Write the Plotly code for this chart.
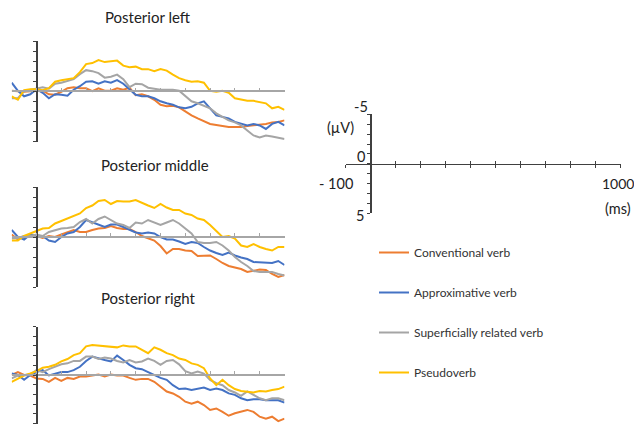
import plotly.graph_objects as go

# Time grid (ms)
T = list(range(-100, 1001, 25))

SERIES = ["Conventional verb", "Approximative verb", "Superficially related verb", "Pseudoverb"]
COLORS = ["#ED7D31", "#4472C4", "#A5A5A5", "#FFC000"]

# Posterior left (µV, negative plotted up)
PL_orange = [-0.05,0,0.05,0,0,-0.05,0.3,0.35,0.05,-0.3,-0.4,-0.3,-0.3,0,-0.3,-0.05,-0.05,-0.3,-0.15,-0.35,0.4,0.3,0.5,0.85,1.35,1.5,1.45,1.6,2.0,2.4,2.7,3.0,3.25,3.35,3.45,3.55,3.55,3.55,3.45,3.4,3.35,3.25,3.1,3.05,2.9]
PL_blue = [-0.85,-0.05,0.5,0.3,-0.2,0.15,0.7,0.3,0.35,0.45,-0.15,-0.5,-0.95,-1.0,-0.75,-1.0,-0.85,-1.1,-0.75,-0.15,0.35,0.5,0.5,0.7,1.0,1.2,1.35,1.6,1.7,1.55,1.2,1.0,1.7,2.4,2.55,2.7,3.05,3.25,3.4,3.25,3.4,3.75,3.25,3.05,3.4]
PL_gray = [0.7,0.7,0,-0.15,-0.25,-0.4,-0.25,-0.75,-0.85,-1.0,-1.2,-1.7,-2.1,-2.0,-1.8,-1.35,-1.45,-1.65,-1.2,-0.4,-0.75,-0.7,-0.35,-0.25,-0.15,-0.15,-0.15,-0.05,0.5,1.0,1.2,1.45,1.7,2.2,2.55,2.9,3.1,3.4,3.9,4.4,4.6,4.4,4.5,4.6,4.75]
PL_yellow = [0.5,0.85,-0.1,-0.2,-0.2,-0.1,-0.3,-0.95,-1.1,-1.2,-1.3,-1.9,-2.7,-2.8,-3.1,-2.9,-3.0,-3.05,-2.55,-2.4,-2.45,-2.2,-2.2,-2.0,-2.2,-2.05,-1.65,-1.3,-1.1,-0.95,-1.0,-0.85,-0.05,0.05,-0.05,0.15,0.7,0.85,0.95,0.95,1.1,1.2,1.7,1.55,1.85]

# Posterior middle
PM_orange = [-0.25,0.25,-0.1,0,-0.1,0.1,-0.1,0,-0.25,-0.45,-0.7,-0.5,-0.5,-0.7,-0.85,-0.9,-1.1,-0.9,-0.8,-0.8,-0.5,-0.1,0.15,0.35,0.9,1.65,1.2,1.2,1.35,1.4,1.9,1.85,1.85,2.2,2.6,2.9,3.05,3.2,3.5,3.4,3.25,3.3,3.7,4.0,3.8]
PM_blue = [-0.7,0,0.25,-0.25,-0.1,-0.1,0.35,0.5,0,-0.35,-0.5,-1.0,-1.7,-1.45,-1.2,-1.0,-1.25,-1.25,-1.0,-0.7,-0.45,-0.35,-0.45,-0.35,0,0.25,0.25,0.45,0.7,0.5,0.6,1.0,1.35,1.6,1.8,1.55,1.85,2.05,2.2,2.5,2.55,2.6,2.6,2.4,2.8]
PM_gray = [0.15,0.1,-0.1,-0.1,-0.25,-0.1,-0.5,-0.7,-0.85,-0.9,-1.0,-1.5,-1.8,-1.35,-1.8,-2.05,-1.7,-1.35,-1.2,-0.9,-1.45,-1.35,-1.7,-1.45,-1.2,-1.45,-1.7,-1.35,-0.85,-0.35,0.5,0.6,0.6,0.5,0.85,1.35,2.0,2.5,2.9,3.4,3.5,3.5,3.5,3.7,3.85]
PM_yellow = [0.35,0.35,-0.1,-0.35,-0.6,-0.85,-0.9,-1.35,-1.6,-1.85,-2.05,-2.35,-2.9,-3.15,-3.6,-3.7,-3.3,-3.6,-3.55,-3.55,-3.7,-3.4,-3.15,-2.9,-3.3,-2.95,-2.7,-2.7,-2.35,-2.2,-1.85,-1.7,-1.2,-0.6,0,-0.1,0.15,0.85,1.0,0.7,1.0,1.2,1.35,1.0,1.0]

# Posterior right
PR_orange = [0,-0.3,0,0.05,0.35,0.4,0.7,0.3,0.6,0.3,0.4,0.15,0.15,0.05,-0.05,0.15,-0.05,0.05,0.05,0.3,0.5,0.4,0.4,0.7,1.2,1.7,1.9,2.25,2.75,2.95,2.75,3.1,3.6,3.45,3.8,4.2,3.95,3.8,3.6,3.8,4.3,4.5,4.3,4.75,4.5]
PR_blue = [-0.15,0,0.5,0,-0.3,-0.5,0.05,-0.15,-0.3,-0.3,-0.5,-0.85,-1.45,-1.9,-1.7,-1.55,-1.4,-2.0,-1.55,-1.05,-0.7,-0.6,-0.3,0,0.3,0.5,1.05,1.45,1.4,1.55,1.4,1.3,1.55,1.4,1.55,1.9,2.05,2.4,2.6,2.5,2.5,2.6,2.6,2.6,2.85]
PR_gray = [0.35,0.05,0,-0.05,-0.5,-0.3,-0.6,-0.85,-1.1,-1.2,-1.45,-1.45,-1.9,-1.9,-1.65,-1.8,-1.7,-1.45,-1.3,-1.55,-1.3,-1.4,-1.7,-1.45,-1.05,-1.45,-1.55,-1.1,-0.4,-0.15,-0.35,-0.15,0.5,0.85,1.05,1.55,1.8,2.15,1.7,2.05,2.4,2.6,2.4,2.4,2.6]
PR_yellow = [0.7,0.35,0.05,-0.15,-0.4,-0.75,-0.85,-1.05,-1.4,-1.65,-2.05,-2.25,-2.95,-3.1,-3.05,-2.95,-2.95,-2.85,-3.05,-2.95,-2.95,-2.6,-2.25,-2.85,-2.6,-2.25,-2.05,-1.7,-1.55,-1.2,-1.05,-0.7,0.35,1.05,0.5,1.05,1.45,1.65,1.7,1.8,1.65,1.7,1.55,1.45,1.2]

PANELS = [
    ("Posterior left", [PL_orange, PL_blue, PL_gray, PL_yellow]),
    ("Posterior middle", [PM_orange, PM_blue, PM_gray, PM_yellow]),
    ("Posterior right", [PR_orange, PR_blue, PR_gray, PR_yellow]),
]

# The page body has an 8px margin; the figure is sized to fill the rest of the window.
OFF = 8
W, H = 642 - OFF, 426 - OFF
FONT = "Lato"

def px_x(p):
    return (p - OFF) / W

def px_y(p):
    return 1 - (p - OFF) / H

XD = [px_x(11.7), px_x(284.5)]
YDS = [[px_y(141.5), px_y(41)], [px_y(287), px_y(187)], [px_y(423.5), px_y(326.5)]]
TITLE_POS = [(148, 17), (155, 165), (148, 298)]

fig = go.Figure()
layout = dict(
    width=W, height=H, margin=dict(l=0, r=0, t=0, b=0),
    paper_bgcolor="white", plot_bgcolor="rgba(0,0,0,0)",
    showlegend=True,
    font=dict(family=FONT, color="#222222"),
    annotations=[],
)

for i, (title, data) in enumerate(PANELS):
    n = i + 1
    xa = "x" if n == 1 else f"x{n}"
    ya = "y" if n == 1 else f"y{n}"
    for k, (name, col, vals) in enumerate(zip(SERIES, COLORS, data)):
        fig.add_trace(go.Scatter(
            x=T, y=vals, mode="lines", name=name, xaxis=xa, yaxis=ya,
            line=dict(color=col, width=2), showlegend=(n == 1),
            legendgroup=name, cliponaxis=False,
        ))
    yd = YDS[i]
    zero_pos = (yd[0] + yd[1]) / 2
    t0_pos = XD[0] + (XD[1] - XD[0]) * 100 / 1100
    layout[f"xaxis{'' if n == 1 else n}"] = dict(
        domain=XD, range=[-100, 1000], anchor="free", position=zero_pos,
        showline=True, linecolor="#a6a6a6", linewidth=1.5,
        ticks="inside", ticklen=3, tickcolor="#a6a6a6", tickwidth=1,
        tick0=0, dtick=100, showticklabels=False, showgrid=False, zeroline=False,
    )
    layout[f"yaxis{'' if n == 1 else n}"] = dict(
        domain=yd, range=[5, -5], anchor="free", position=t0_pos,
        showline=True, linecolor="#404040", linewidth=1.5,
        ticks="outside", ticklen=2.5, tickcolor="#404040", tickwidth=1,
        tick0=0, dtick=1, showticklabels=False, showgrid=False, zeroline=False,
    )
    tx, ty = TITLE_POS[i]
    layout["annotations"].append(dict(
        text=title, xref="paper", yref="paper", x=px_x(tx), y=px_y(ty),
        xanchor="center", yanchor="middle", showarrow=False,
        font=dict(family=FONT, size=15, color="#222222"),
    ))

# Scale reference panel
RXD = [px_x(345.7), px_x(620.7)]
RYD = [px_y(213.3), px_y(114.3)]
r_zero = (RYD[0] + RYD[1]) / 2
r_t0 = RXD[0] + (RXD[1] - RXD[0]) * 100 / 1100
fig.add_trace(go.Scatter(x=[], y=[], xaxis="x4", yaxis="y4", showlegend=False, hoverinfo="skip"))
fig.add_trace(go.Scatter(x=[], y=[], xaxis="x5", yaxis="y4", showlegend=False, hoverinfo="skip"))
layout["xaxis4"] = dict(
    domain=RXD, range=[-100, 1000], anchor="free", position=r_zero,
    showline=True, linecolor="#404040", linewidth=1.2,
    ticks="outside", ticklen=3, tickcolor="#404040", tickwidth=1,
    tick0=0, dtick=100, showticklabels=False, showgrid=False, zeroline=False,
)
layout["xaxis5"] = dict(
    domain=RXD, range=[-100, 1000], anchor="free", position=r_zero, overlaying="x4",
    showline=False, ticks="inside", ticklen=3, tickcolor="#404040", tickwidth=1,
    tick0=0, dtick=100, showticklabels=False, showgrid=False, zeroline=False,
)
layout["yaxis4"] = dict(
    domain=RYD, range=[5, -5], anchor="free", position=r_t0,
    showline=True, linecolor="#404040", linewidth=1.5,
    ticks="outside", ticklen=2.5, tickcolor="#404040", tickwidth=1,
    tick0=0, dtick=1, showticklabels=False, showgrid=False, zeroline=False,
)

REF_LABELS = [
    ("-5", 361, 106, "center", 14.5),
    ("(µV)", 341, 127, "center", 14.5),
    ("0", 361, 157, "center", 14.5),
    ("- 100", 336, 183, "center", 14.5),
    ("1000", 600, 183, "left", 14),
    ("(ms)", 603, 208, "left", 14.5),
    ("5", 360, 216, "center", 14.5),
]
for txt, x, y, anc, sz in REF_LABELS:
    layout["annotations"].append(dict(
        text=txt, xref="paper", yref="paper", x=px_x(x), y=px_y(y),
        xanchor=anc, yanchor="middle", showarrow=False,
        font=dict(family=FONT, size=sz, color="#222222"),
    ))

layout["legend"] = dict(
    x=px_x(374), y=px_y(238), xanchor="left", yanchor="top",
    traceorder="grouped", tracegroupgap=21, itemwidth=30,
    font=dict(family=FONT, size=12, color="#333333"),
    bgcolor="rgba(0,0,0,0)", borderwidth=0,
)

fig.update_layout(**layout)
fig.write_html("out.html")
